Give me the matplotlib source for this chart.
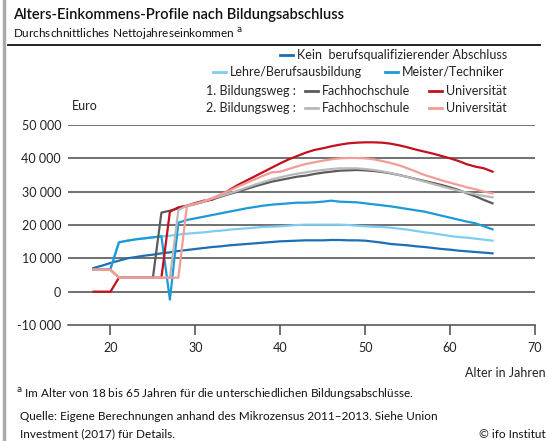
import matplotlib
matplotlib.use('Agg')
import matplotlib.pyplot as plt
from matplotlib.lines import Line2D
import numpy as np

plt.rcParams['font.family'] = ['Lato', 'DejaVu Sans']

# ages 18..65
ages = list(range(18, 66))

kein = [7100, 7800, 8600, 9300, 10000, 10400, 10800, 11100, 11500, 11800,
        12200, 12500, 12800, 13100, 13400, 13600, 13900, 14100, 14300, 14500,
        14700, 14900, 15100, 15200, 15300, 15400, 15400, 15400, 15500, 15500,
        15400, 15400, 15300, 15000, 14700, 14300, 14100, 13900, 13600, 13400,
        13100, 12800, 12600, 12300, 12100, 11900, 11700, 11500]

lehre = [6600, 6600, 6800, 14800, 15300, 15700, 16000, 16300, 16600, 16800,
         17100, 17400, 17600, 17800, 18100, 18300, 18600, 18800, 19000, 19200,
         19400, 19500, 19600, 19800, 20000, 20100, 20100, 20100, 20100, 20100,
         20000, 19800, 19600, 19500, 19400, 19200, 18900, 18600, 18200, 17800,
         17500, 17100, 16700, 16400, 16200, 15900, 15600, 15300]

meister = [6600, 6600, 6800, 14800, 15300, 15700, 16000, 16300, 16600, -2400,
           20700, 21500, 22000, 22500, 23000, 23500, 24000, 24500, 25000, 25400,
           25800, 26100, 26300, 26500, 26700, 26700, 26800, 27000, 27300, 27000,
           26900, 26800, 26500, 26200, 25900, 25600, 25200, 24800, 24400, 24000,
           23400, 22800, 22200, 21600, 21000, 20500, 19600, 18700]

fh1 = [6600, 6600, 6600, 4200, 4200, 4200, 4200, 4200, 23700, 24300,
       25000, 25700, 26300, 27000, 27700, 28500, 29300, 30000, 30800, 31600,
       32300, 33000, 33500, 34000, 34500, 34800, 35300, 35700, 36000, 36300,
       36400, 36500, 36400, 36200, 35900, 35500, 35000, 34400, 33800, 33200,
       32600, 32000, 31300, 30500, 29500, 28600, 27500, 26500]

uni1 = [0, 0, 0, 4200, 4200, 4200, 4200, 4200, 4200, 24000,
        25300, 25800, 26600, 27300, 27600, 29000, 30500, 32000, 33300, 34600,
        35900, 37200, 38500, 39700, 40700, 41700, 42500, 43000, 43600, 44100,
        44500, 44700, 44800, 44800, 44700, 44400, 43900, 43300, 42600, 42000,
        41400, 40700, 40000, 39200, 38200, 37500, 37000, 36000]

fh2 = [6600, 6600, 6600, 4200, 4200, 4200, 4200, 4200, 4200, 4200,
       24500, 25800, 26400, 27100, 27900, 28700, 29500, 30300, 31200, 32100,
       32900, 33700, 34300, 34900, 35400, 35800, 36200, 36500, 36800, 37000,
       37000, 37000, 36800, 36500, 36100, 35600, 35000, 34400, 33700, 33000,
       32300, 31600, 30900, 30300, 29700, 29200, 28700, 28300]

uni2 = [6600, 6600, 6600, 4200, 4200, 4200, 4200, 4200, 4200, 4200,
        4200, 25600, 26300, 27100, 28100, 29200, 30300, 31500, 32600, 33700,
        34800, 35800, 36000, 36800, 37600, 38300, 38800, 39300, 39700, 40000,
        40100, 40100, 40000, 39700, 39200, 38600, 37900, 37000, 36000, 35000,
        34200, 33400, 32700, 32000, 31300, 30700, 30000, 29500]

c_kein = '#1a6fb5'
c_lehre = '#7fcdf0'
c_meister = '#1c9ad8'
c_fh1 = '#5b5b5b'
c_uni1 = '#c3101f'
c_fh2 = '#b9b9b9'
c_uni2 = '#f29c98'

W, H = 547, 441


def px(x, y):
    """pixel coords (from top-left) to figure fraction"""
    return x / W, 1 - y / H


fig = plt.figure(figsize=(W / 100, H / 100), dpi=100)
ax = fig.add_axes([68 / W, 1 - 325 / H, (535 - 68) / W, 200 / H])

lw = 1.6
ax.plot(ages, kein, color=c_kein, lw=lw)
ax.plot(ages, lehre, color=c_lehre, lw=lw)
ax.plot(ages, meister, color=c_meister, lw=lw)
ax.plot(ages, fh1, color=c_fh1, lw=lw)
ax.plot(ages, uni1, color=c_uni1, lw=lw)
ax.plot(ages, fh2, color=c_fh2, lw=lw)
ax.plot(ages, uni2, color=c_uni2, lw=lw)

ax.set_xlim(15, 70)
ax.set_ylim(-10000, 50000)
yt = np.arange(-10000, 50001, 10000)
for v in yt[1:]:
    ax.axhline(v, color='#4a4a4a', lw=1.1, zorder=0)
ax.set_yticks(yt)
ax.set_yticklabels(['{:,}'.format(v).replace(',', ' ') for v in yt])
ax.set_xticks(range(20, 71, 10))
for s in ['top', 'right', 'left']:
    ax.spines[s].set_visible(False)
ax.spines['bottom'].set_color('#4a4a4a')
ax.spines['bottom'].set_linewidth(1.1)
ax.tick_params(axis='y', length=0, pad=5, labelsize=9, colors='#222222')
ax.tick_params(axis='x', length=7, width=1.1, color='#4a4a4a', direction='out',
               pad=5, labelsize=9, labelcolor='#222222')

# titles
fig.text(*px(13, 15), 'Alters-Einkommens-Profile nach Bildungsabschluss',
         fontsize=10.5, fontweight='semibold', va='center', color='#111111')
fig.text(*px(13, 34), 'Durchschnittliches Nettojahreseinkommen $^{\\mathsf{a}}$',
         fontsize=8.5, va='center', color='#111111')
fig.add_artist(Line2D([8 / W, 540 / W], [1 - 45 / H] * 2, color='#111111', lw=1.3))
fig.add_artist(Line2D([4 / W, 4 / W], [0, 1], color='#aaaaaa', lw=2.5))

# legend


def leg(x, y, color, label):
    fig.add_artist(Line2D([x / W, (x + 13) / W], [1 - y / H] * 2, color=color, lw=2))
    fig.text(*px(x + 17, y), label, fontsize=9, va='center', color='#222222')


leg(280, 55, c_kein, 'Kein  berufsqualifizierender Abschluss')
leg(213, 72, c_lehre, 'Lehre/Berufsausbildung')
leg(385, 72, c_meister, 'Meister/Techniker')
fig.text(*px(206, 91), '1. Bildungsweg :', fontsize=9, va='center', color='#222222')
leg(305, 91, c_fh1, 'Fachhochschule')
leg(429, 91, c_uni1, 'Universität')
fig.text(*px(206, 108), '2. Bildungsweg :', fontsize=9, va='center', color='#222222')
leg(305, 108, c_fh2, 'Fachhochschule')
leg(429, 108, c_uni2, 'Universität')

fig.text(*px(72, 106), 'Euro', fontsize=9, va='center', color='#222222')
fig.text(*px(546, 373), 'Alter in Jahren', fontsize=9, va='center', ha='right',
         color='#222222')

# notes
fig.text(*px(16, 394), '$^{\\mathsf{a}}$ Im Alter von 18 bis 65 Jahren für die unterschiedlichen Bildungsabschlüsse.',
         fontsize=8.5, va='center', color='#111111')
fig.text(*px(20, 416), 'Quelle: Eigene Berechnungen anhand des Mikrozensus 2011–2013. Siehe Union',
         fontsize=8.5, va='center', color='#111111')
fig.text(*px(20, 434), 'Investment (2017) für Details.',
         fontsize=8.5, va='center', color='#111111')
fig.text(*px(546, 434), '© ifo Institut', fontsize=8.5, va='center', ha='right',
         color='#111111')

fig.savefig('out.png', dpi=100)
